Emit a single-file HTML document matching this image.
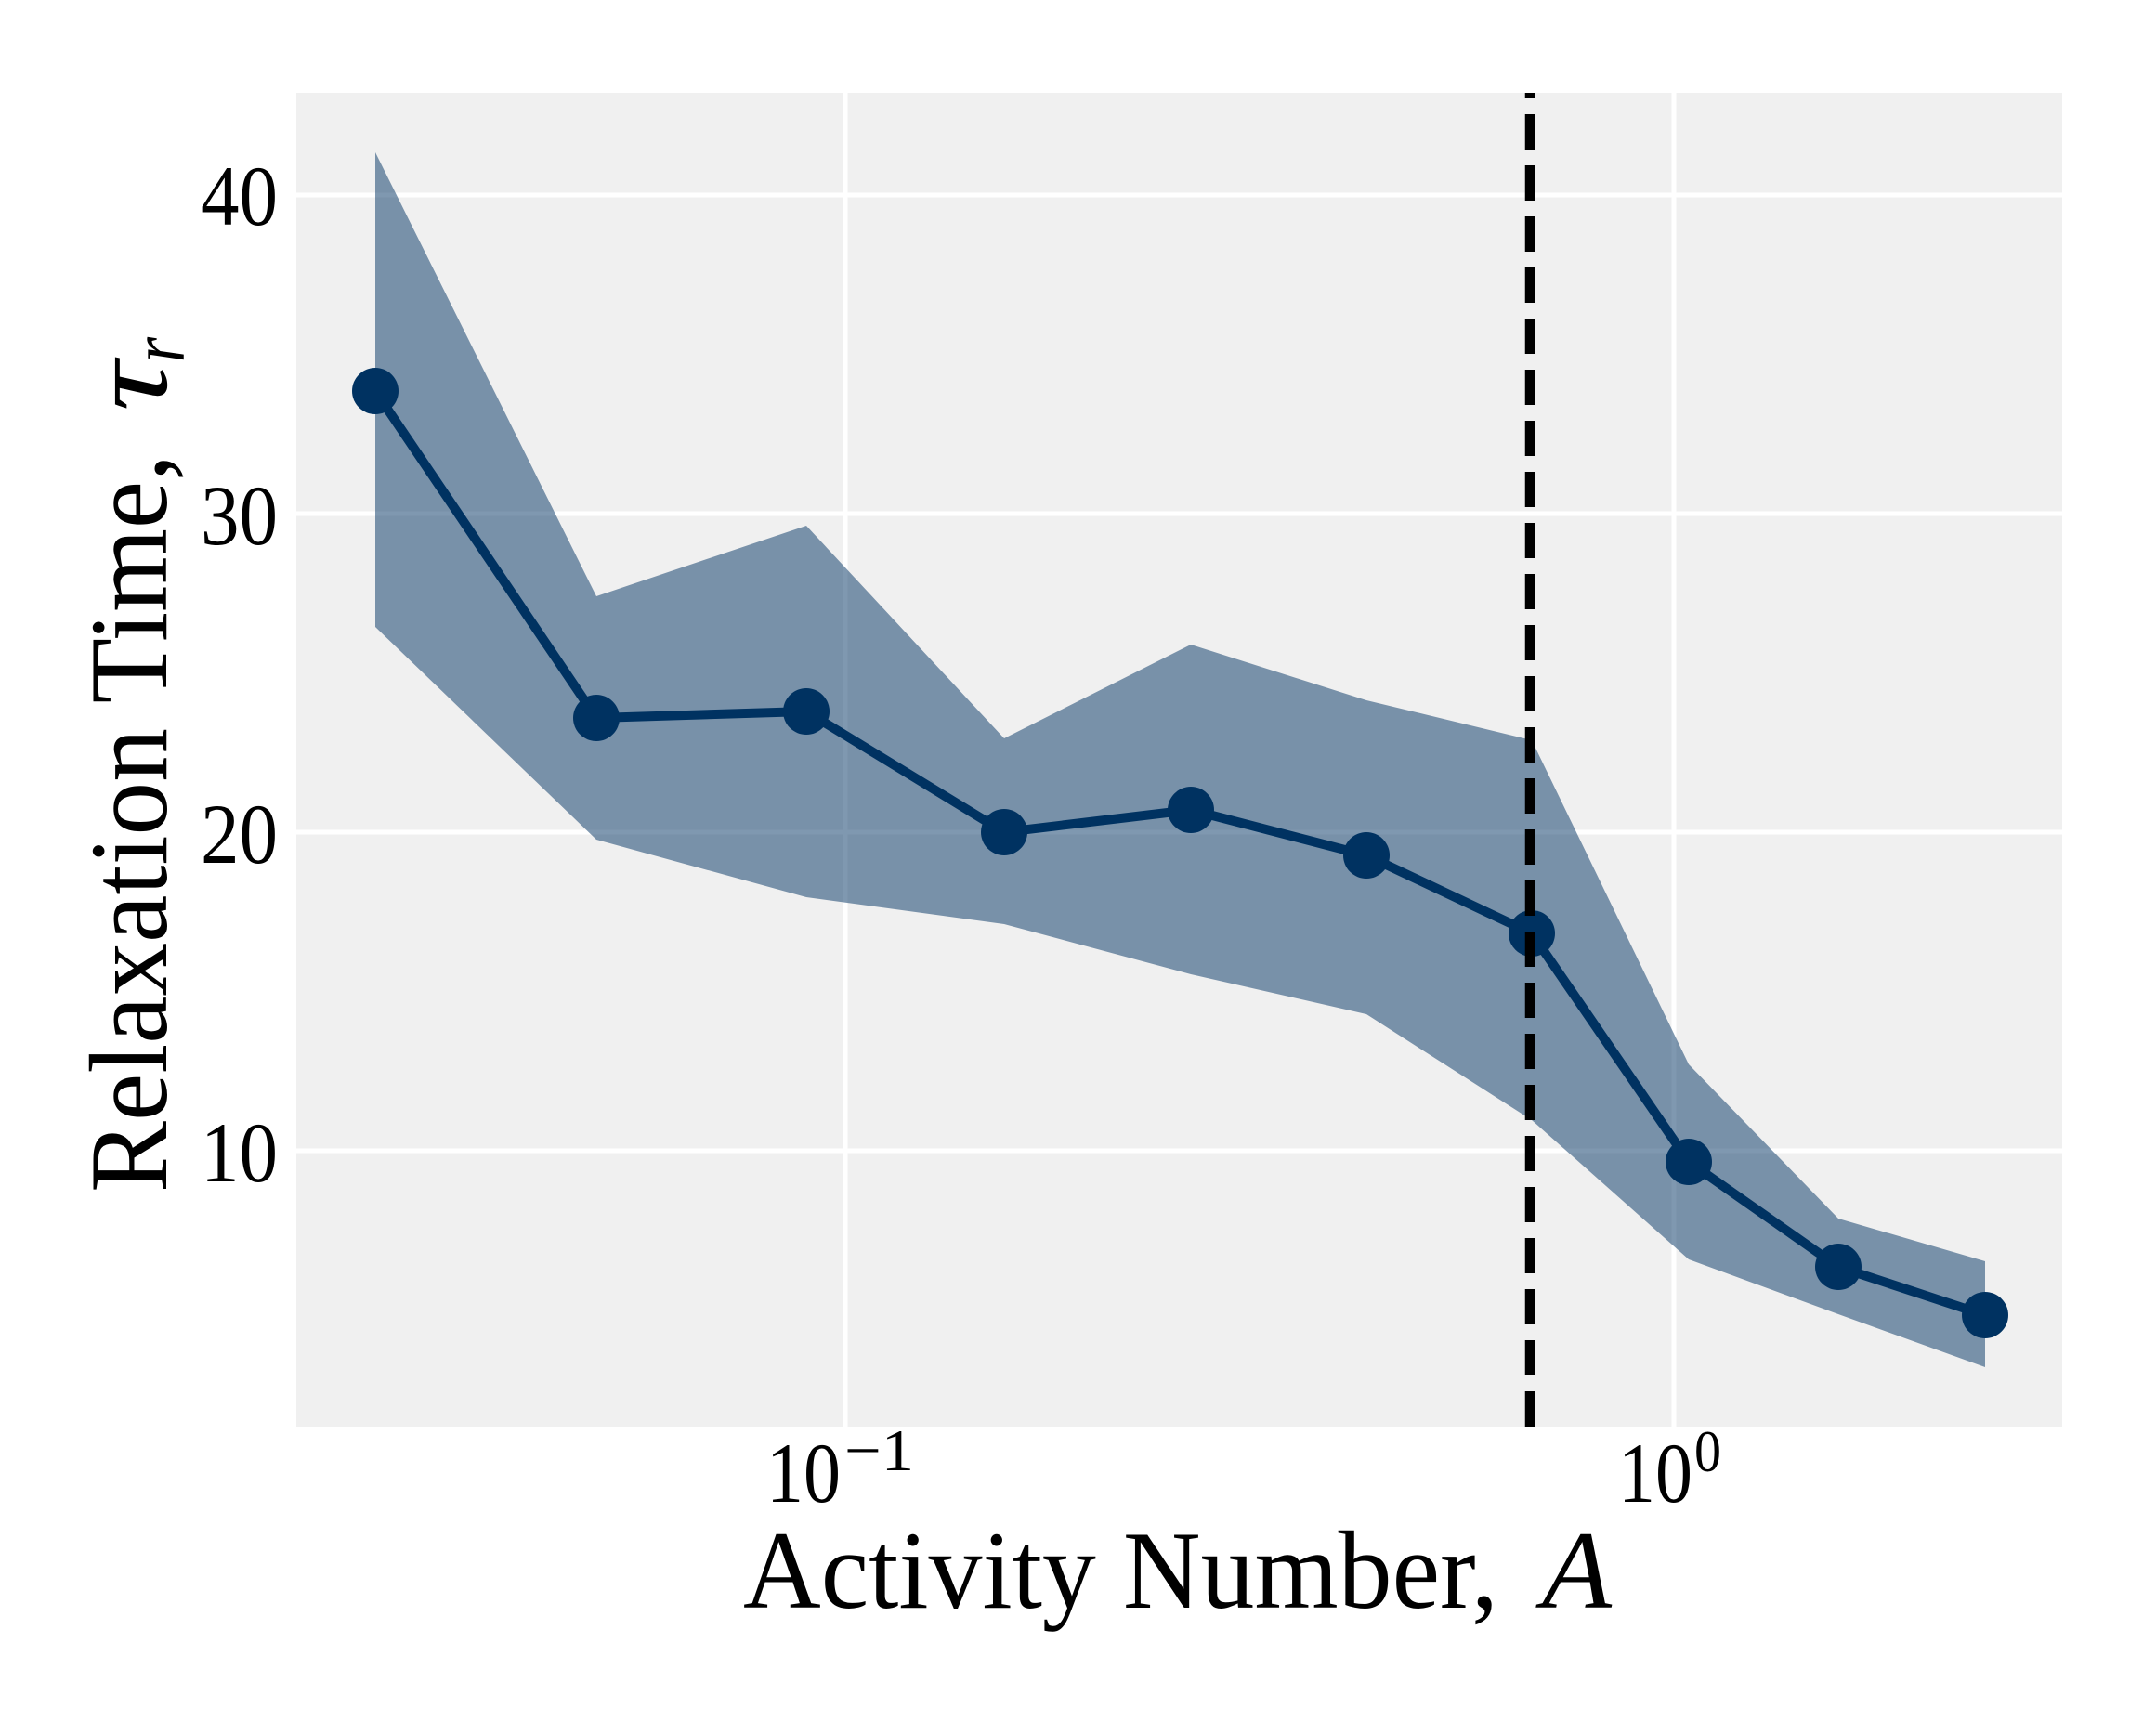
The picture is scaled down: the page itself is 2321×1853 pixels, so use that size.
<!DOCTYPE html>
<html>
<head>
<meta charset="utf-8">
<style>
  html, body { margin: 0; padding: 0; background: #ffffff; }
  svg { display: block; }
  text { font-family: "Liberation Serif", "DejaVu Serif", serif; fill: #000; }
</style>
</head>
<body>
<svg width="2321" height="1853" viewBox="0 0 2321 1853" xmlns="http://www.w3.org/2000/svg">
  <rect x="0" y="0" width="2321" height="1853" fill="#ffffff"/>
  <!-- plot area -->
  <rect x="319" y="100" width="1901" height="1436" fill="#f0f0f0"/>
  <!-- grid -->
  <g stroke="#ffffff" stroke-width="5">
    <line x1="319" y1="210" x2="2220" y2="210"/>
    <line x1="319" y1="553" x2="2220" y2="553"/>
    <line x1="319" y1="896" x2="2220" y2="896"/>
    <line x1="319" y1="1239" x2="2220" y2="1239"/>
    <line x1="910" y1="100" x2="910" y2="1536"/>
    <line x1="1802" y1="100" x2="1802" y2="1536"/>
  </g>
  <!-- band -->
  <polygon fill="#003261" fill-opacity="0.5"
    points="404,164 642,642 868,566 1081,795 1282,694 1471,754 1649,797 1818,1146 1979,1312 2137,1358 2137,1472 1979,1415 1818,1356 1649,1206 1471,1092 1282,1049 1081,995 868,966 642,904 404,675"/>
  <!-- line -->
  <polyline fill="none" stroke="#003261" stroke-width="10" stroke-linejoin="round"
    points="404,421 642,773 868,766 1081,896 1282,872 1471,921 1649,1005 1818,1251 1979,1364 2137,1416"/>
  <g fill="#003261">
    <circle cx="404" cy="421" r="25"/>
    <circle cx="642" cy="773" r="25"/>
    <circle cx="868" cy="766" r="25"/>
    <circle cx="1081" cy="896" r="25"/>
    <circle cx="1282" cy="872" r="25"/>
    <circle cx="1471" cy="921" r="25"/>
    <circle cx="1649" cy="1005" r="25"/>
    <circle cx="1818" cy="1251" r="25"/>
    <circle cx="1979" cy="1364" r="25"/>
    <circle cx="2137" cy="1416" r="25"/>
  </g>
  <!-- dashed vertical line -->
  <line x1="1647" y1="1536" x2="1647" y2="100" stroke="#000000" stroke-width="10.5" stroke-dasharray="38 17"/>

  <!-- y tick labels -->
  <g font-size="92" text-anchor="end">
    <text x="299" y="242" textLength="83" lengthAdjust="spacingAndGlyphs">40</text>
    <text x="299" y="586" textLength="83" lengthAdjust="spacingAndGlyphs">30</text>
    <text x="299" y="929" textLength="83" lengthAdjust="spacingAndGlyphs">20</text>
    <text x="299" y="1272" textLength="83" lengthAdjust="spacingAndGlyphs">10</text>
  </g>

  <!-- x tick labels -->
  <text x="825" y="1617" font-size="92" textLength="80" lengthAdjust="spacingAndGlyphs">10</text>
  <text x="909" y="1583" font-size="64" textLength="75" lengthAdjust="spacingAndGlyphs">−1</text>
  <text x="1742" y="1617" font-size="92" textLength="80" lengthAdjust="spacingAndGlyphs">10</text>
  <text x="1824" y="1584" font-size="64" textLength="29" lengthAdjust="spacingAndGlyphs">0</text>

  <!-- x axis label -->
  <text x="800" y="1731" font-size="120" textLength="813" lengthAdjust="spacingAndGlyphs">Activity Number,</text>
  <text x="1660" y="1731" font-size="120" font-style="italic" textLength="75" lengthAdjust="spacingAndGlyphs">A</text>

  <!-- y axis label -->
  <g transform="translate(179,1284) rotate(-90)">
    <text x="0" y="0" font-size="120" textLength="795" lengthAdjust="spacingAndGlyphs">Relaxation Time,</text>
    <text x="841" y="0" font-size="120" font-style="italic" textLength="54" lengthAdjust="spacingAndGlyphs">τ</text>
    <text x="894" y="19" font-size="84" font-style="italic" textLength="27" lengthAdjust="spacingAndGlyphs">r</text>
  </g>
</svg>
</body>
</html>
